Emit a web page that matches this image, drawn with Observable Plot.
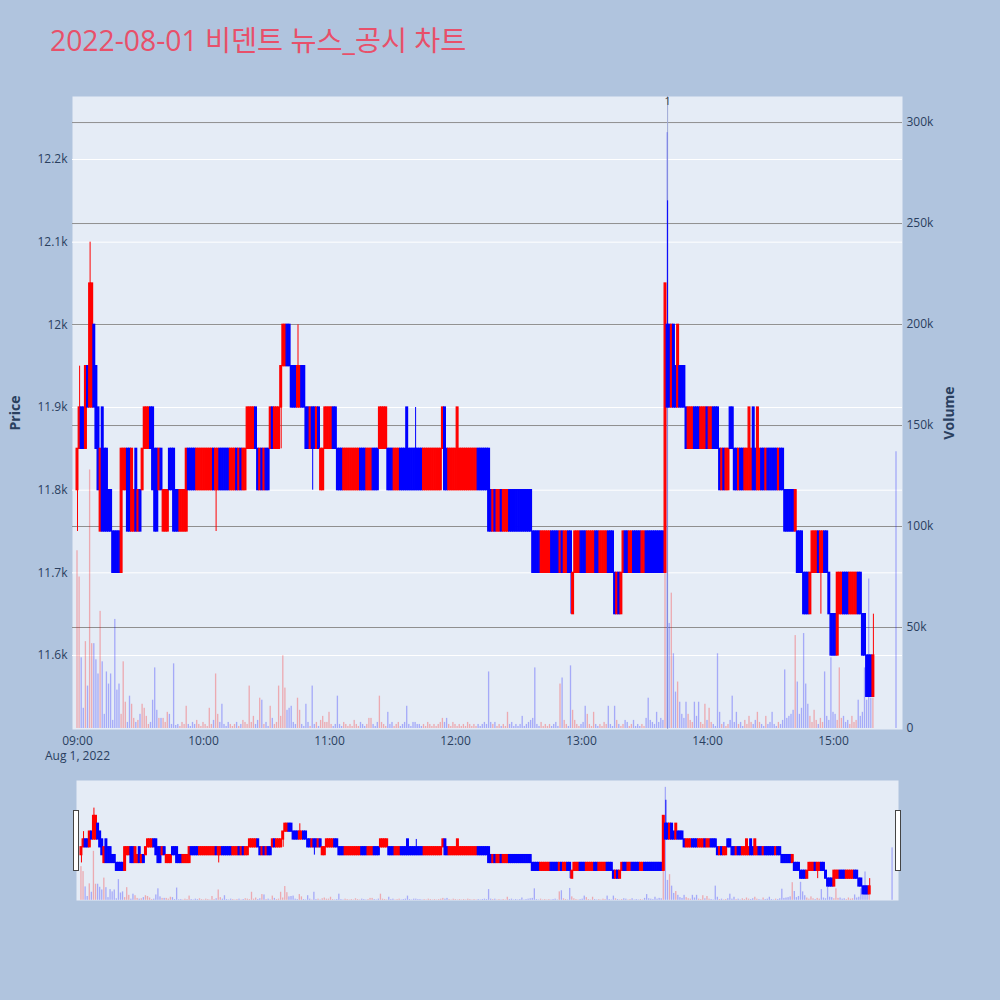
<!DOCTYPE html>
<html><head><meta charset="utf-8">
<script src="https://cdn.jsdelivr.net/npm/d3@7"></script>
<script src="https://cdn.jsdelivr.net/npm/@observablehq/plot@0.6"></script>
<style>
html,body{margin:0;padding:0;background:#b0c4de;}
#root{position:relative;width:1000px;height:1000px;background:#b0c4de;overflow:hidden;font-family:'Open Sans','Noto Sans CJK KR',sans-serif;}
#title{position:absolute;left:50px;top:26px;font-size:28.3px;color:#e8506a;white-space:nowrap;line-height:1;font-family:'Open Sans','Noto Sans CJK KR',sans-serif;}
.layer{position:absolute;left:0;}
.layer svg{overflow:visible;}
g[aria-label="y-axis label"]{font-weight:bold;font-size:14px;}
.handle{position:absolute;width:4px;height:59px;background:#fff;border:1px solid #444;top:810px;}
</style></head>
<body><div id="root"><div id="title">2022-08-01 비덴트 뉴스_공시 차트</div></div>
<script>
// ---- data ----
const open = [
11800,11850,11900,11900,11850,11950,11900,11900,12000,11950,
11900,11750,11900,11850,11850,11800,11800,11750,11750,11750,
11750,11700,11800,11800,11850,11850,11750,11750,11850,11750,
11800,11800,11850,11850,11850,11900,11900,11850,11850,11800,
11850,11750,11750,11750,11850,11850,11850,11800,11800,11750,
11750,11750,11750,11850,11850,11850,11850,11800,11800,11800,
11800,11800,11800,11800,11800,11850,11800,11800,11850,11850,
11850,11850,11850,11800,11800,11800,11850,11800,11850,11800,
11800,11850,11850,11850,11850,11900,11850,11800,11850,11800,
11850,11850,11850,11900,11850,11850,11850,11900,11950,11950,
12000,12000,11950,11950,11950,11900,11900,11950,11950,11900,
11900,11850,11900,11900,11850,11900,11800,11800,11850,11850,
11850,11850,11900,11900,11850,11850,11850,11800,11800,11800,
11800,11800,11800,11800,11800,11850,11850,11850,11800,11800,
11800,11850,11850,11850,11850,11850,11850,11850,11850,11850,
11850,11800,11800,11800,11850,11850,11850,11900,11850,11850,
11850,11850,11850,11850,11850,11800,11800,11800,11800,11800,
11800,11800,11800,11800,11850,11900,11850,11800,11800,11800,
11800,11800,11800,11800,11800,11800,11800,11800,11800,11800,
11800,11850,11850,11850,11850,11850,11850,11800,11750,11800,
11750,11750,11800,11750,11750,11750,11800,11800,11800,11800,
11800,11800,11800,11800,11800,11800,11800,11750,11750,11750,
11750,11700,11700,11700,11700,11700,11750,11750,11750,11750,
11700,11750,11700,11700,11750,11750,11650,11700,11700,11700,
11750,11750,11750,11700,11700,11700,11700,11750,11750,11700,
11700,11700,11700,11750,11750,11750,11700,11650,11700,11650,
11700,11750,11750,11700,11700,11750,11750,11750,11750,11700,
11700,11750,11750,11750,11750,11750,11750,11750,11750,11750,
11700,12000,12000,11900,12000,11950,11900,11950,11950,11950,
11900,11850,11850,11850,11900,11900,11900,11850,11850,11850,
11900,11850,11850,11900,11900,11900,11850,11800,11850,11800,
11800,11900,11900,11850,11850,11800,11850,11850,11800,11800,
11800,11800,11900,11850,11800,11800,11850,11850,11800,11850,
11850,11850,11850,11850,11800,11850,11850,11800,11800,11800,
11800,11800,11750,11750,11750,11750,11700,11700,11700,11650,
11700,11700,11700,11750,11700,11700,11750,11750,11700,11650,
11650,11650,11600,11650,11650,11700,11700,11700,11650,11650,
11650,11650,11700,11700,11650,11650,11600,11600,11600,11550,
11550];
const high = [
11850,11950,11900,11900,11950,11950,12100,12050,12000,11950,
11900,11850,11900,11850,11850,11800,11800,11750,11750,11750,
11750,11850,11850,11850,11850,11850,11850,11800,11850,11800,
11800,11850,11900,11900,11900,11900,11900,11850,11850,11850,
11850,11800,11800,11800,11850,11850,11850,11800,11800,11800,
11800,11800,11850,11850,11850,11850,11850,11850,11850,11850,
11850,11850,11850,11850,11850,11850,11850,11850,11850,11850,
11850,11850,11850,11850,11850,11850,11850,11850,11850,11850,
11850,11900,11900,11900,11900,11900,11850,11850,11850,11850,
11850,11850,11900,11900,11900,11900,11900,11950,12000,12000,
12000,12000,11950,11950,11950,12000,11950,11950,11950,11900,
11900,11900,11900,11900,11900,11900,11850,11850,11900,11900,
11900,11900,11900,11900,11850,11850,11850,11850,11850,11850,
11850,11850,11850,11850,11850,11850,11850,11850,11850,11850,
11850,11850,11850,11850,11900,11900,11900,11900,11850,11850,
11850,11850,11850,11850,11850,11850,11850,11900,11850,11850,
11850,11900,11850,11850,11850,11850,11850,11850,11850,11850,
11850,11850,11850,11850,11900,11900,11850,11850,11850,11850,
11850,11900,11850,11850,11850,11850,11850,11850,11850,11850,
11850,11850,11850,11850,11850,11850,11850,11800,11800,11800,
11800,11800,11800,11800,11800,11800,11800,11800,11800,11800,
11800,11800,11800,11800,11800,11800,11800,11750,11750,11750,
11750,11750,11750,11750,11750,11750,11750,11750,11750,11750,
11750,11750,11750,11750,11750,11750,11700,11750,11750,11750,
11750,11750,11750,11750,11750,11750,11750,11750,11750,11750,
11750,11750,11750,11750,11750,11750,11700,11700,11700,11700,
11750,11750,11750,11750,11750,11750,11750,11750,11750,11750,
11750,11750,11750,11750,11750,11750,11750,11750,11750,11750,
12050,12150,12000,12000,12000,11950,12000,11950,11950,11950,
11900,11900,11900,11900,11900,11900,11900,11900,11900,11900,
11900,11900,11900,11900,11900,11900,11850,11850,11850,11850,
11850,11900,11900,11850,11850,11850,11850,11850,11850,11850,
11900,11850,11900,11850,11900,11850,11850,11850,11850,11850,
11850,11850,11850,11850,11850,11850,11850,11800,11800,11800,
11800,11800,11800,11750,11750,11750,11700,11700,11700,11700,
11750,11750,11750,11750,11750,11750,11750,11750,11700,11650,
11650,11650,11700,11700,11700,11700,11700,11700,11700,11700,
11700,11700,11700,11700,11650,11650,11600,11600,11600,11650,
11550];
const low = [
11750,11850,11850,11850,11850,11900,11900,11900,11900,11850,
11800,11750,11750,11750,11750,11750,11750,11700,11700,11700,
11700,11700,11800,11800,11750,11750,11750,11750,11750,11750,
11750,11800,11850,11850,11850,11850,11800,11750,11750,11800,
11800,11750,11750,11750,11800,11800,11750,11750,11750,11750,
11750,11750,11750,11800,11800,11800,11800,11800,11800,11800,
11800,11800,11800,11800,11800,11800,11750,11800,11800,11800,
11800,11800,11800,11800,11800,11800,11800,11800,11800,11800,
11800,11850,11850,11850,11850,11850,11800,11800,11800,11800,
11800,11800,11850,11850,11850,11850,11850,11850,11950,11950,
11950,11950,11900,11900,11900,11900,11900,11900,11900,11850,
11850,11850,11800,11850,11850,11850,11800,11800,11850,11850,
11850,11850,11850,11850,11800,11800,11800,11800,11800,11800,
11800,11800,11800,11800,11800,11800,11800,11800,11800,11800,
11800,11800,11800,11800,11850,11850,11850,11850,11800,11800,
11800,11800,11800,11800,11800,11800,11800,11800,11800,11800,
11800,11800,11800,11800,11800,11800,11800,11800,11800,11800,
11800,11800,11800,11800,11850,11800,11800,11800,11800,11800,
11800,11800,11800,11800,11800,11800,11800,11800,11800,11800,
11800,11800,11800,11800,11800,11800,11750,11750,11750,11750,
11750,11750,11750,11750,11750,11750,11750,11750,11750,11750,
11750,11750,11750,11750,11750,11750,11750,11700,11700,11700,
11700,11700,11700,11700,11700,11700,11700,11700,11700,11700,
11700,11700,11700,11700,11700,11650,11650,11700,11700,11700,
11700,11700,11700,11700,11700,11700,11700,11700,11700,11700,
11700,11700,11700,11700,11700,11700,11650,11650,11650,11650,
11700,11700,11700,11700,11700,11700,11700,11700,11700,11700,
11700,11700,11700,11700,11700,11700,11700,11700,11700,11700,
11700,11900,11900,11900,11900,11900,11900,11900,11900,11900,
11850,11850,11850,11850,11850,11850,11850,11850,11850,11850,
11850,11850,11850,11850,11850,11850,11800,11800,11800,11800,
11800,11850,11850,11800,11800,11800,11800,11800,11800,11800,
11800,11800,11800,11800,11800,11800,11800,11800,11800,11800,
11800,11800,11800,11800,11800,11800,11800,11750,11750,11750,
11750,11750,11750,11700,11700,11700,11650,11650,11650,11650,
11700,11700,11700,11700,11650,11700,11700,11700,11650,11600,
11600,11600,11600,11650,11650,11650,11650,11650,11650,11650,
11650,11650,11650,11650,11600,11600,11550,11550,11550,11550,
11550];
const close = [
11850,11900,11850,11850,11950,11900,12050,12050,11900,11850,
11800,11850,11750,11750,11750,11750,11750,11700,11700,11700,
11700,11850,11850,11850,11750,11750,11850,11800,11750,11800,
11750,11850,11900,11900,11900,11850,11800,11750,11750,11850,
11800,11800,11800,11800,11800,11800,11750,11750,11750,11800,
11800,11800,11850,11800,11800,11800,11800,11850,11850,11850,
11850,11850,11850,11850,11850,11800,11850,11850,11800,11800,
11800,11800,11800,11850,11850,11850,11800,11850,11800,11850,
11850,11900,11900,11900,11900,11850,11800,11850,11800,11850,
11800,11800,11900,11850,11900,11900,11900,11950,12000,12000,
11950,11950,11900,11900,11900,11950,11950,11900,11900,11850,
11850,11900,11850,11850,11900,11850,11850,11850,11900,11900,
11900,11900,11850,11850,11800,11800,11800,11850,11850,11850,
11850,11850,11850,11850,11850,11800,11800,11800,11850,11850,
11850,11800,11800,11800,11900,11900,11900,11900,11800,11800,
11800,11850,11850,11850,11800,11800,11800,11800,11800,11800,
11800,11800,11800,11800,11800,11850,11850,11850,11850,11850,
11850,11850,11850,11850,11900,11800,11800,11850,11850,11850,
11850,11900,11850,11850,11850,11850,11850,11850,11850,11850,
11850,11800,11800,11800,11800,11800,11750,11750,11800,11750,
11800,11800,11750,11800,11800,11800,11750,11750,11750,11750,
11750,11750,11750,11750,11750,11750,11750,11700,11700,11700,
11700,11750,11750,11750,11750,11750,11700,11700,11700,11700,
11750,11700,11750,11750,11700,11700,11700,11750,11750,11750,
11700,11700,11700,11750,11750,11750,11750,11700,11700,11750,
11750,11750,11750,11700,11700,11700,11650,11700,11650,11700,
11750,11700,11700,11750,11750,11700,11700,11700,11700,11750,
11750,11700,11700,11700,11700,11700,11700,11700,11700,11700,
12050,11900,11900,12000,11900,11900,12000,11900,11900,11900,
11850,11900,11900,11900,11850,11850,11850,11900,11900,11900,
11850,11900,11900,11850,11850,11850,11800,11850,11800,11850,
11850,11850,11850,11800,11800,11850,11800,11800,11850,11850,
11900,11850,11800,11800,11900,11850,11800,11800,11850,11800,
11800,11800,11800,11800,11850,11800,11800,11750,11750,11750,
11750,11750,11800,11700,11700,11700,11650,11650,11650,11700,
11750,11750,11750,11700,11750,11750,11700,11700,11650,11600,
11600,11600,11700,11700,11700,11650,11650,11650,11700,11700,
11700,11700,11650,11650,11600,11600,11550,11550,11550,11600,
11550];
const volume = [
88000,75000,35000,10000,43000,21000,128000,42000,42000,34000,
27000,58000,33000,7000,28000,22000,27000,4000,54000,19000,
22000,7000,33000,13000,3000,16000,12000,5000,3000,4000,
7000,12000,10000,6000,2000,3000,14000,30000,9000,5000,
5000,5000,3000,8000,7000,2000,32000,1500,2000,1000,
3000,2000,11000,2000,1000,3000,2000,4000,2000,1000,
3000,2000,1000,10000,2000,4000,27000,7000,3000,12000,
2000,1000,3000,2000,1000,2000,3000,1000,2000,4000,
3000,2000,21000,3000,6000,2000,4000,15000,14000,2000,
3000,1000,11000,5000,2000,3000,21000,6000,36000,20000,
9000,10000,11000,3000,2000,15000,9000,2000,1000,12000,
3000,1000,21000,2000,3000,1000,4000,6000,3000,3000,
8000,2000,1000,2000,16000,2000,1000,3000,2000,1000,
2000,1000,4000,2000,1000,3000,2000,1000,2000,5000,
5000,2000,1000,3000,16000,3000,2000,1000,8000,2000,
3000,1000,2000,3000,1000,2000,3000,11000,2000,1000,
3000,3000,2000,2000,1000,2000,1000,3000,2000,1000,
2000,1000,2000,3000,5000,3000,5000,2000,1000,3000,
2000,1000,2000,1000,2000,1000,3000,2000,1000,2000,
1000,2000,1000,2000,3000,2000,28000,3000,2000,3000,
1000,2000,1000,2000,1000,8000,2000,3000,1000,2000,
1000,2000,6000,1000,2000,3000,4000,5000,30000,2000,
1000,3000,1000,2000,1000,2000,1000,2000,3000,1000,
22000,25000,4000,2000,1000,31000,9000,4000,2000,1000,
2000,3000,11000,7000,2000,1000,8000,2000,1000,2000,
1000,3000,2000,11000,2000,1000,11000,4000,2000,1000,
2000,4000,3000,1000,2000,4000,1000,2000,1000,2000,
1000,5000,15000,4000,3000,2000,8000,3000,5000,4000,
80000,295000,52000,67000,37000,18000,23000,13000,7000,5000,
13000,7000,4000,3000,13000,6000,13000,3000,2000,12000,
4000,10000,3000,2000,1000,37000,8000,2000,3000,1000,
2000,4000,16000,3000,8000,2000,3000,1000,4000,2000,
6000,3000,2000,4000,8000,3000,2000,1000,6000,2000,
3000,8000,2000,1000,3000,2000,4000,29000,5000,6000,
7000,9000,46000,23000,7000,10000,47000,22000,12000,6000,
3000,9000,4000,2000,5000,3000,28000,6000,4000,35000,
8000,7000,4000,30000,5000,6000,3000,4000,2000,6000,
3000,4000,14000,6000,8000,30000,14000,74000,15000,15000,
137000];
// minute offsets from 09:00 (continuous session 09:00-15:19, closing auction 15:30)
const sessionMinutes = [...d3.range(380), 390];
const priceTicks = [11600,11700,11800,11900,12000,12100,12200];
const volumeTicks = [0,50000,100000,150000,200000,250000,300000];
const timeTickLabels = ["09:00","10:00","11:00","12:00","13:00","14:00","15:00"];
const dateLabel = "Aug 1, 2022";
const newsTimes = ["13:41"];
const newsLabels = ["1"];

[open,high,low,close,volume].forEach((a,k)=>{ if(a.length!==sessionMinutes.length) throw new Error("length mismatch "+k+" "+a.length); });

// ---- build ----
const base = Date.UTC(2022,7,1,9,0);
const hm = s => { const [h,m]=s.split(":").map(Number); return new Date(Date.UTC(2022,7,1,h,m)); };
const candles = sessionMinutes.map((m,i)=>({time:new Date(base+m*60000), open:open[i], high:high[i], low:low[i], close:close[i], volume:volume[i]}));
const news = newsTimes.map((t,i)=>({time:hm(t), label:newsLabels[i]}));
const timeTicks = timeTickLabels.map(hm);

const UP="#ff0000", DOWN="#0000ff";
const col = d => d.close > d.open ? UP : DOWN;
const xDomain = [new Date(base - 142900), new Date(base + 392.857*60000)];
const priceDomain = [11510.5, 12276.2];
const volDomain = [-500, 312900];
const half = ms => [d => new Date(+d.time - ms), d => new Date(+d.time + ms)];
const [bx1,bx2] = half(24000);
const [vx1,vx2] = half(19000);

const baseStyle = {background:"transparent", fontFamily:"'Open Sans', sans-serif", fontSize:"12px", color:"#2a3f5f", overflow:"visible"};
const root = document.getElementById("root");
function addLayer(svg, top){ const d=document.createElement("div"); d.className="layer"; d.style.top=top+"px"; d.appendChild(svg); root.appendChild(d); }

const mainOpts = {width:1000, height:770, marginTop:96, marginBottom:41, marginLeft:72, marginRight:98,
  x:{type:"utc", domain:xDomain, axis:null}, color:{type:"identity"}, style:baseStyle};

// layer 0: background, price grid, price axis
addLayer(Plot.plot({...mainOpts, y:{domain:priceDomain, axis:null}, marks:[
  Plot.frame({fill:"#e5ecf6", stroke:"none"}),
  Plot.gridY(priceTicks, {stroke:"#ffffff", strokeOpacity:1, strokeWidth:1}),
  Plot.axisY(priceTicks, {anchor:"left", tickSize:0, tickPadding:5, tickFormat:d=>d/1000+"k",
    label:"Price", labelAnchor:"center", labelOffset:62, labelArrow:"none"})
]}), 0);

// layer 1: volume grid, news line, volume bars, volume axis
addLayer(Plot.plot({...mainOpts, y:{domain:volDomain, axis:null}, marks:[
  Plot.gridY(volumeTicks.filter(v=>v>0), {stroke:"#8f8f8f", strokeOpacity:1, strokeWidth:1}),
  Plot.ruleX(news, {x:"time", stroke:"#9ea8d4", strokeWidth:1}),
  Plot.rect(candles, {x1:vx1, x2:vx2, y1:0, y2:"volume", fill:col, fillOpacity:0.28}),
  Plot.axisY(volumeTicks, {anchor:"right", tickSize:0, tickPadding:4, tickFormat:d=>d===0?"0":d/1000+"k",
    label:"Volume", labelAnchor:"center", labelOffset:51, labelArrow:"none"})
]}), 0);

// layer 2: candles, time axis, news label
addLayer(Plot.plot({...mainOpts, y:{domain:priceDomain, axis:null}, marks:[
  Plot.ruleX(candles, {x:"time", y1:"low", y2:"high", stroke:col, strokeWidth:1}),
  Plot.rect(candles, {x1:bx1, x2:bx2, y1:"open", y2:"close", fill:col, stroke:col, strokeWidth:1.3}),
  Plot.text(news, {x:"time", text:"label", frameAnchor:"top", dy:1, fontSize:11, fill:"#444"}),
  Plot.axisX(timeTicks, {tickSize:0, tickPadding:7, tickFormat:d=>d3.utcFormat("%H:%M")(d)}),
  Plot.axisX(timeTicks.slice(0,1), {tickSize:0, tickPadding:22, tickFormat:()=>dateLabel})
]}), 0);

// range slider
const sliderOpts = {width:1000, height:120, marginTop:0, marginBottom:0, marginLeft:76, marginRight:102,
  x:{type:"utc", domain:xDomain, axis:null}, color:{type:"identity"}, style:baseStyle};
addLayer(Plot.plot({...sliderOpts, y:{domain:volDomain, axis:null}, marks:[
  Plot.frame({fill:"#e5ecf6", stroke:"none"}),
  Plot.rect(candles, {x1:vx1, x2:vx2, y1:0, y2:"volume", fill:col, fillOpacity:0.28})
]}), 780);
addLayer(Plot.plot({...sliderOpts, y:{domain:priceDomain, axis:null}, marks:[
  Plot.ruleX(candles, {x:"time", y1:"low", y2:"high", stroke:col, strokeWidth:1}),
  Plot.rect(candles, {x1:bx1, x2:bx2, y1:"open", y2:"close", fill:col, stroke:col, strokeWidth:1.3})
]}), 780);

for (const left of [73, 895]) { const h=document.createElement("div"); h.className="handle"; h.style.left=left+"px"; root.appendChild(h); }
</script></body></html>
